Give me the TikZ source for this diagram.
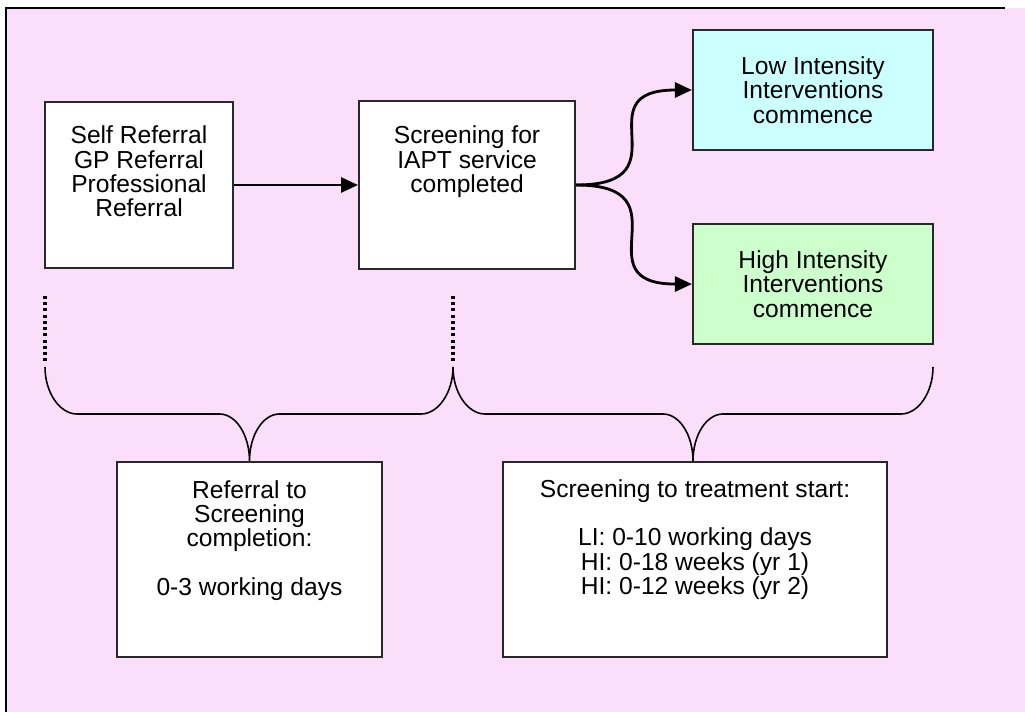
\documentclass[tikz,border=0pt]{standalone}
\usepackage{fontspec}
\setmainfont{Liberation Sans}
\usepackage{xcolor}
\definecolor{iaptpink}{RGB}{250, 222, 250}
\definecolor{iaptcyan}{RGB}{204, 255, 255}
\definecolor{iaptgreen}{RGB}{204, 255, 204}
\definecolor{iaptedge}{RGB}{40, 40, 40}
\usetikzlibrary{arrows.meta, positioning}

\begin{document}
\begin{tikzpicture}[
    x=0.02cm, y=-0.02cm,
    box/.style={rectangle, draw=iaptedge, line width=1.2pt, fill=white, inner sep=0pt, font=\fontsize{14}{13.9}\selectfont, align=center},
    boxtext/.style={anchor=north, inner sep=0pt, align=center, font=\fontsize{14}{13.9}\selectfont},
    arrow/.style={line width=1.6pt, -{Triangle[length=0.34cm, width=0.3cm]}},
    brace/.style={line width=0.9pt},
    dotline/.style={line width=1.8pt, dash pattern=on 0.06cm off 0.065cm}
]

% Frame
\useasboundingbox (0,0) rectangle (1025,712);
\fill [iaptpink] (6,8) rectangle (1025,712);
\draw [line width=1.2pt] (6,712) -- (6,8) -- (1005,8);

% Nodes
\node (selfref) [box, minimum width=3.76cm, minimum height=3.32cm] at (139,185) {};
\node (screen) [box, minimum width=4.32cm, minimum height=3.36cm, right=2.48cm of selfref] {};
\node (low) [box, fill=iaptcyan, minimum width=4.8cm, minimum height=2.4cm] at (813,90) {Low Intensity\\Interventions\\commence};
\node (high) [box, fill=iaptgreen, minimum width=4.8cm, minimum height=2.4cm, below=1.44cm of low] {High Intensity\\Interventions\\commence};
\node (refscr) [box, minimum width=5.3cm, minimum height=3.9cm] at (249.5,559.5) {};
\node (scrtreat) [box, minimum width=7.68cm, minimum height=3.9cm, right=2.38cm of refscr] {};

% Texts
\node (selfref-txt) [boxtext] at ([yshift=-0.49cm]selfref.north) {Self Referral\\GP Referral\\Professional\\Referral};
\node (screen-txt) [boxtext] at ([yshift=-0.51cm]screen.north) {Screening for\\IAPT service\\completed};
\node (refscr-txt) [boxtext] at ([yshift=-0.38cm]refscr.north) {Referral to\\Screening\\completion:\\[13.9pt]0-3 working days};
\node (scrtreat-txt) [boxtext] at ([yshift=-0.36cm]scrtreat.north) {Screening to treatment start:\\[13.9pt]LI: 0-10 working days\\HI: 0-18 weeks (yr 1)\\HI: 0-12 weeks (yr 2)};

% Arrows
\draw [arrow] (selfref) -- (screen);
\draw [arrow] (screen.east) to[out=0, in=180, looseness=1.9] (low.west);
\draw [arrow] (screen.east) to[out=0, in=180, looseness=1.9] (high.west);

% Time spans
\draw [dotline] (45,296) -- (45,362);
\draw [dotline] (453,296) -- (453,362);
\foreach \l/\m/\r in {45/249.5/453, 453/693/933} {
    \draw [brace] (\l,367) .. controls (\l,393) and (\l+15,414) .. (\l+32,414) -- (\m-30,414)
        .. controls (\m-13.5,414) and (\m,435) .. (\m,461)
        .. controls (\m,435) and (\m+13.5,414) .. (\m+30,414) -- (\r-32,414)
        .. controls (\r-15,414) and (\r,393) .. (\r,367);
}

\end{tikzpicture}
\end{document}
